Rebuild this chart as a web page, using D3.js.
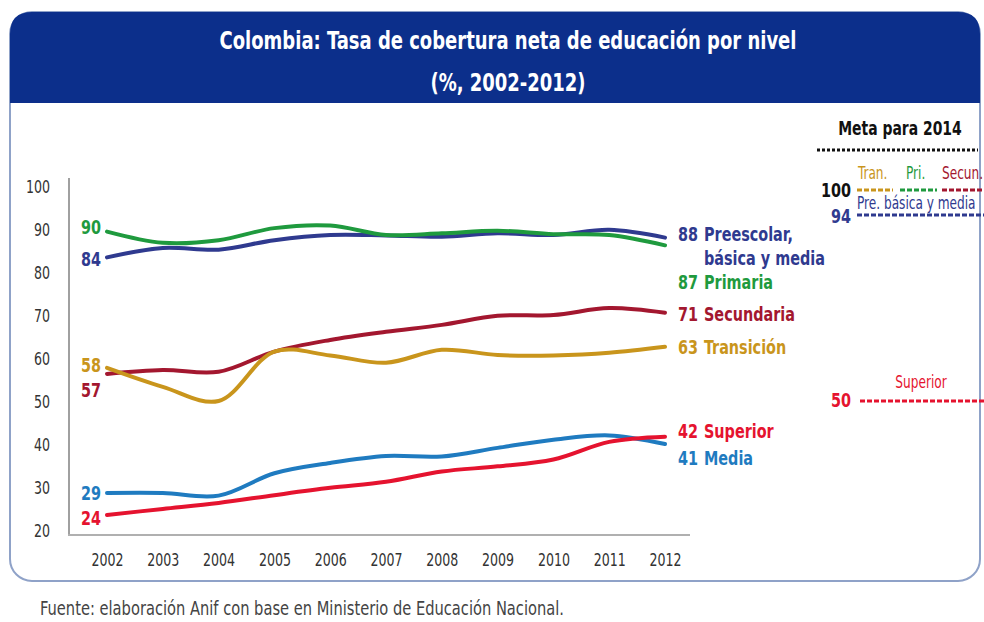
<!DOCTYPE html>
<html lang="es">
<head>
<meta charset="UTF-8">
<title>Colombia: Tasa de cobertura neta de educación por nivel</title>
<script src="https://d3js.org/d3.v7.min.js"></script>
<style>
  body { margin: 0; background: #fff; }
  svg text { font-family: "DejaVu Sans Condensed", "DejaVu Sans", sans-serif; }
</style>
</head>
<body>
<svg id="chart" width="984" height="622"></svg>
<script>
  // Data
  const years = [2002, 2003, 2004, 2005, 2006, 2007, 2008, 2009, 2010, 2011, 2012];
  const preescolar = [83.4, 85.6, 85.2, 87.4, 88.6, 88.5, 88.2, 89.0, 88.6, 89.8, 88.0];
  const primaria   = [89.4, 86.8, 87.4, 90.2, 90.8, 88.6, 89.0, 89.6, 88.8, 88.6, 86.2];
  const secundaria = [56.3, 57.2, 56.8, 61.5, 64.2, 66.1, 67.7, 69.8, 70.0, 71.6, 70.5];
  const transicion = [57.7, 53.3, 50.0, 61.5, 60.6, 58.9, 61.9, 60.7, 60.6, 61.2, 62.6];
  const media      = [28.6, 28.6, 28.0, 33.2, 35.6, 37.2, 37.1, 39.1, 41.0, 42.0, 40.0];
  const superior   = [23.5, 24.9, 26.3, 28.1, 29.8, 31.2, 33.6, 34.8, 36.4, 40.5, 41.7];
  const startLabels = [84, 90, 57, 58, 29, 24];
  const endLabels   = [88, 87, 71, 63, 41, 42];
  const yTicks = [20, 30, 40, 50, 60, 70, 80, 90, 100];
  const metaValues = [100, 94, 50];

  const NAVY = "#2f3a8f", GREEN = "#1f9a3e", DRED = "#a3172f",
        GOLD = "#c9951c", BLUE = "#1f7bc0", RED = "#e5132f";

  const series = [
    { name: ["Preescolar,", "básica y media"], values: preescolar, color: NAVY, sdy: 2,  edy: -4 },
    { name: ["Primaria"],   values: primaria,   color: GREEN, sdy: -5, edy: 37 },
    { name: ["Secundaria"], values: secundaria, color: DRED,  sdy: 16, edy: 1 },
    { name: ["Transición"], values: transicion, color: GOLD,  sdy: -3, edy: 0 },
    { name: ["Media"],      values: media,      color: BLUE,  sdy: 0,  edy: 14 },
    { name: ["Superior"],   values: superior,   color: RED,   sdy: 3,  edy: -6 }
  ];

  const svg = d3.select("#chart");

  // panel + header
  svg.append("rect")
    .attr("x", 10).attr("y", 12).attr("width", 970).attr("height", 569)
    .attr("rx", 22).attr("fill", "#fff")
    .attr("stroke", "#8fa2c8").attr("stroke-width", 2);

  svg.append("path")
    .attr("d", "M10,103 L10,34 Q10,12 32,12 L958,12 Q980,12 980,34 L980,103 Z")
    .attr("fill", "#0c2f8b");

  svg.append("text")
    .attr("x", 508).attr("y", 40).attr("dy", "0.35em").attr("text-anchor", "middle")
    .attr("fill", "#fff").attr("font-weight", "bold").attr("font-size", 20)
    .text("Colombia: Tasa de cobertura neta de educación por nivel");
  svg.append("text")
    .attr("x", 508).attr("y", 82).attr("dy", "0.35em").attr("text-anchor", "middle")
    .attr("fill", "#fff").attr("font-weight", "bold").attr("font-size", 20)
    .text("(%, 2002-2012)");

  // scales
  const x = d3.scalePoint().domain(years).range([107, 665]);
  const y = d3.scaleLinear().domain([20, 100]).range([530, 186]);

  // axes
  const yAxis = svg.append("g")
    .attr("transform", "translate(69,0)")
    .call(d3.axisLeft(y).tickValues(yTicks).tickSize(0).tickPadding(19));
  yAxis.select(".domain").remove();
  yAxis.selectAll("text").attr("font-size", 14).attr("fill", "#333").attr("dy", "0.35em");

  const xAxis = svg.append("g")
    .attr("transform", "translate(0,535)")
    .call(d3.axisBottom(x).tickSize(0).tickPadding(25).tickFormat(d3.format("d")));
  xAxis.select(".domain").remove();
  xAxis.selectAll("text").attr("font-size", 14).attr("fill", "#333").attr("dy", "0.35em");

  svg.append("line").attr("x1", 69).attr("x2", 69).attr("y1", 178).attr("y2", 536)
    .attr("stroke", "#a0a0a0").attr("stroke-width", 2);
  svg.append("line").attr("x1", 68).attr("x2", 690).attr("y1", 535).attr("y2", 535)
    .attr("stroke", "#b0b0b0").attr("stroke-width", 2);

  // lines
  const line = d3.line()
    .x((d, i) => x(years[i]))
    .y(d => y(d))
    .curve(d3.curveCatmullRom.alpha(0.5));

  series.forEach(s => {
    svg.append("path")
      .attr("d", line(s.values))
      .attr("fill", "none")
      .attr("stroke", s.color)
      .attr("stroke-width", 4)
      .attr("stroke-linecap", "round");
  });

  // start / end labels
  series.forEach((s, i) => {
    svg.append("text")
      .attr("x", 101).attr("y", y(s.values[0]) + s.sdy)
      .attr("dy", "0.35em").attr("text-anchor", "end")
      .attr("font-weight", "bold").attr("font-size", 16).attr("fill", s.color)
      .text(startLabels[i]);

    const ey = y(s.values[s.values.length - 1]) + s.edy;
    svg.append("text")
      .attr("x", 678).attr("y", ey)
      .attr("dy", "0.35em")
      .attr("font-weight", "bold").attr("font-size", 16).attr("fill", s.color)
      .text(endLabels[i]);
    s.name.forEach((n, k) => {
      svg.append("text")
        .attr("x", 704).attr("y", ey + k * 24)
        .attr("dy", "0.35em")
        .attr("font-weight", "bold").attr("font-size", 16).attr("fill", s.color)
        .text(n);
    });
  });

  // Meta para 2014
  svg.append("text")
    .attr("x", 900).attr("y", 128).attr("dy", "0.35em").attr("text-anchor", "middle")
    .attr("font-weight", "bold").attr("font-size", 15.5).attr("fill", "#111")
    .text("Meta para 2014");
  svg.append("line").attr("x1", 817).attr("x2", 978).attr("y1", 150).attr("y2", 150)
    .attr("stroke", "#111").attr("stroke-width", 3).attr("stroke-dasharray", "3,2");

  const dash = (x1, x2, yy, color) => svg.append("line")
    .attr("x1", x1).attr("x2", x2).attr("y1", yy).attr("y2", yy)
    .attr("stroke", color).attr("stroke-width", 3).attr("stroke-dasharray", "5,2");
  const small = (tx, ty, t, color, anchor) => svg.append("text")
    .attr("x", tx).attr("y", ty).attr("dy", "0.35em").attr("text-anchor", anchor || "start")
    .attr("font-size", 13.5).attr("fill", color).text(t);
  const big = (ty, t, color) => svg.append("text")
    .attr("x", 851).attr("y", ty).attr("dy", "0.35em").attr("text-anchor", "end")
    .attr("font-weight", "bold").attr("font-size", 16).attr("fill", color).text(t);

  small(858, 173, "Tran.", GOLD);
  small(906, 173, "Pri.", GREEN);
  small(942, 173, "Secun.", DRED);
  big(190, metaValues[0], "#111");
  dash(857, 893, 190, GOLD);
  dash(900, 937, 190, GREEN);
  dash(942, 984, 190, DRED);
  small(857, 203, "Pre. básica y media", NAVY);
  big(216, metaValues[1], NAVY);
  dash(857, 984, 215, NAVY);
  small(921, 382, "Superior", RED, "middle");
  big(400, metaValues[2], RED);
  dash(860, 984, 401, RED);

  // source
  svg.append("text")
    .attr("x", 40).attr("y", 608).attr("dy", "0.35em")
    .attr("font-size", 16.3).attr("fill", "#444")
    .attr("class", "src")
    .text("Fuente: elaboración Anif con base en Ministerio de Educación Nacional.");

  // the original text is tall and narrow: stretch every label vertically about its own anchor
  svg.selectAll("text").each(function() {
    const t = d3.select(this);
    const tx = +t.attr("x") || 0, ty = +t.attr("y") || 0;
    const k = t.classed("src") ? 1.2 : 1.25;
    t.attr("x", null).attr("y", null)
      .attr("transform", `translate(${tx},${ty}) scale(1,${k})`);
  });
</script>
</body>
</html>
